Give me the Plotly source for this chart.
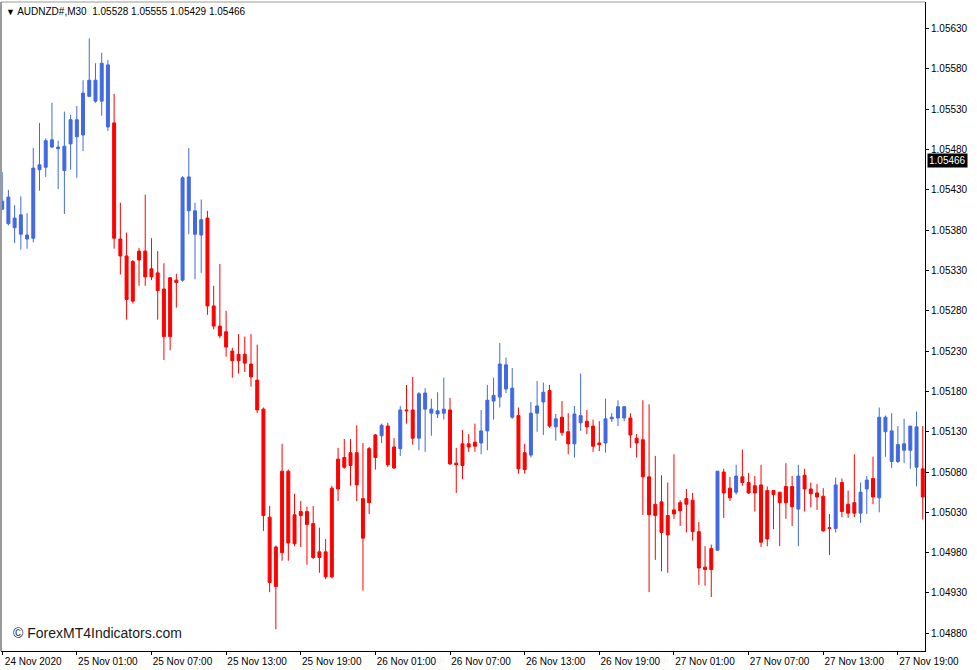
import pandas as pd
import plotly.graph_objects as go

# ---- data (AUDNZD#, M30) ----
times = pd.date_range("2020-11-24 19:00", periods=149, freq="30min")

opens = [
    1.05406, 1.05388, 1.05383, 1.05375, 1.05369, 1.05370, 1.05455, 1.05458, 1.05483, 1.05481,
    1.05454, 1.05487, 1.05496, 1.05498, 1.05546, 1.05540, 1.05540, 1.05508, 1.05513, 1.05369,
    1.05348, 1.05341, 1.05354, 1.05354, 1.05332, 1.05327, 1.05307, 1.05321, 1.05318, 1.05318,
    1.05404, 1.05375, 1.05374, 1.05395, 1.05286, 1.05261, 1.05254, 1.05230, 1.05226, 1.05226,
    1.05214, 1.05194, 1.05158, 1.05024, 1.04987, 1.05081, 1.05081, 1.05027, 1.05031, 1.05031,
    1.05016, 1.04981, 1.04981, 1.05060, 1.05096, 1.05098, 1.05104, 1.05104, 1.05047, 1.05109,
    1.05126, 1.05125, 1.05137, 1.05111, 1.05109, 1.05157, 1.05157, 1.05122, 1.05158, 1.05153,
    1.05152, 1.05153, 1.05157, 1.05091, 1.05115, 1.05115, 1.05117, 1.05116, 1.05131, 1.05168,
    1.05173, 1.05183, 1.05148, 1.05150, 1.05104, 1.05101, 1.05153, 1.05167, 1.05181, 1.05136,
    1.05148, 1.05130, 1.05115, 1.05141, 1.05143, 1.05137, 1.05116, 1.05116, 1.05146, 1.05147,
    1.05147, 1.05147, 1.05122, 1.05120, 1.05074, 1.05040, 1.05043, 1.05026, 1.05033, 1.05042,
    1.05047, 1.05045, 1.05006, 1.04962, 1.04985, 1.04983, 1.05080, 1.05060, 1.05055, 1.05074,
    1.05067, 1.05063, 1.05064, 1.05057, 1.05057, 1.05055, 1.05062, 1.05062, 1.05034, 1.05076,
    1.05059, 1.05054, 1.05050, 1.05011, 1.05010, 1.05067, 1.05040, 1.05042, 1.05029, 1.05059,
    1.05072, 1.05048, 1.05130, 1.05093, 1.05093, 1.05107, 1.05107, 1.05086, 1.05084,
]
highs = [
    1.05452, 1.05430, 1.05411, 1.05422, 1.05401, 1.05482, 1.05513, 1.05494, 1.05538, 1.05491,
    1.05527, 1.05523, 1.05534, 1.05566, 1.05618, 1.05587, 1.05600, 1.05591, 1.05549, 1.05414,
    1.05377, 1.05343, 1.05358, 1.05424, 1.05370, 1.05354, 1.05339, 1.05322, 1.05326, 1.05447,
    1.05482, 1.05414, 1.05418, 1.05404, 1.05311, 1.05338, 1.05280, 1.05234, 1.05251, 1.05248,
    1.05251, 1.05238, 1.05160, 1.05038, 1.04989, 1.05115, 1.05083, 1.05053, 1.05044, 1.05037,
    1.05038, 1.05011, 1.04997, 1.05063, 1.05110, 1.05121, 1.05121, 1.05138, 1.05116, 1.05111,
    1.05127, 1.05140, 1.05141, 1.05122, 1.05162, 1.05188, 1.05198, 1.05179, 1.05184, 1.05171,
    1.05179, 1.05197, 1.05172, 1.05110, 1.05132, 1.05127, 1.05140, 1.05157, 1.05188, 1.05197,
    1.05240, 1.05222, 1.05209, 1.05160, 1.05115, 1.05167, 1.05193, 1.05191, 1.05188, 1.05152,
    1.05168, 1.05153, 1.05162, 1.05202, 1.05157, 1.05145, 1.05143, 1.05171, 1.05153, 1.05169,
    1.05162, 1.05153, 1.05127, 1.05169, 1.05164, 1.05100, 1.05076, 1.05067, 1.05102, 1.05045,
    1.05059, 1.05054, 1.05018, 1.04988, 1.04990, 1.05081, 1.05084, 1.05074, 1.05089, 1.05108,
    1.05079, 1.05075, 1.05089, 1.05062, 1.05057, 1.05055, 1.05091, 1.05075, 1.05089, 1.05084,
    1.05067, 1.05065, 1.05060, 1.05028, 1.05073, 1.05072, 1.05057, 1.05102, 1.05067, 1.05075,
    1.05099, 1.05160, 1.05150, 1.05153, 1.05137, 1.05146, 1.05137, 1.05155, 1.05137,
]
lows = [
    1.05405, 1.05386, 1.05364, 1.05356, 1.05357, 1.05365, 1.05429, 1.05446, 1.05482, 1.05431,
    1.05400, 1.05455, 1.05445, 1.05478, 1.05545, 1.05538, 1.05522, 1.05503, 1.05357, 1.05325,
    1.05269, 1.05289, 1.05311, 1.05311, 1.05318, 1.05269, 1.05219, 1.05231, 1.05284, 1.05316,
    1.05375, 1.05319, 1.05327, 1.05275, 1.05257, 1.05246, 1.05223, 1.05197, 1.05202, 1.05204,
    1.05186, 1.05153, 1.05007, 1.04931, 1.04885, 1.04970, 1.04970, 1.04988, 1.04987, 1.04965,
    1.04972, 1.04955, 1.04947, 1.04948, 1.05044, 1.05084, 1.05063, 1.05044, 1.04933, 1.05028,
    1.05083, 1.05116, 1.05086, 1.05084, 1.05100, 1.05140, 1.05114, 1.05107, 1.05105, 1.05125,
    1.05147, 1.05145, 1.05089, 1.05054, 1.05071, 1.05105, 1.05105, 1.05102, 1.05107, 1.05145,
    1.05160, 1.05178, 1.05146, 1.05078, 1.05078, 1.05098, 1.05130, 1.05126, 1.05135, 1.05119,
    1.05125, 1.05102, 1.05098, 1.05131, 1.05127, 1.05105, 1.05106, 1.05104, 1.05142, 1.05137,
    1.05143, 1.05110, 1.05098, 1.05027, 1.04931, 1.04971, 1.04957, 1.04955, 1.05022, 1.05013,
    1.05005, 1.04995, 1.04940, 1.04939, 1.04925, 1.04983, 1.05023, 1.05044, 1.05052, 1.05063,
    1.05053, 1.05031, 1.04987, 1.04988, 1.05009, 1.04988, 1.05022, 1.05013, 1.04988, 1.05031,
    1.05036, 1.05033, 1.05006, 1.04977, 1.05005, 1.05024, 1.05023, 1.05024, 1.05017, 1.05028,
    1.05040, 1.05030, 1.05099, 1.05085, 1.05091, 1.05091, 1.05084, 1.05062, 1.05021,
]
closes = [
    1.05416, 1.05421, 1.05395, 1.05399, 1.05374, 1.05457, 1.05461, 1.05491, 1.05492, 1.05483,
    1.05484, 1.05517, 1.05517, 1.05550, 1.05566, 1.05566, 1.05587, 1.05585, 1.05370, 1.05348,
    1.05294, 1.05292, 1.05343, 1.05322, 1.05322, 1.05305, 1.05248, 1.05248, 1.05315, 1.05445,
    1.05446, 1.05404, 1.05393, 1.05286, 1.05261, 1.05249, 1.05235, 1.05218, 1.05218, 1.05215,
    1.05198, 1.05157, 1.05026, 1.04943, 1.04938, 1.04980, 1.04992, 1.04991, 1.05026, 1.05015,
    1.04974, 1.04974, 1.04950, 1.04950, 1.05059, 1.05086, 1.05088, 1.05064, 1.04998, 1.05042,
    1.05098, 1.05138, 1.05089, 1.05085, 1.05157, 1.05156, 1.05122, 1.05177, 1.05178, 1.05158,
    1.05156, 1.05158, 1.05090, 1.05089, 1.05088, 1.05111, 1.05112, 1.05131, 1.05169, 1.05175,
    1.05214, 1.05213, 1.05184, 1.05084, 1.05083, 1.05153, 1.05162, 1.05179, 1.05137, 1.05146,
    1.05129, 1.05115, 1.05152, 1.05150, 1.05136, 1.05112, 1.05114, 1.05146, 1.05148, 1.05161,
    1.05161, 1.05126, 1.05116, 1.05074, 1.05027, 1.05026, 1.05005, 1.05002, 1.05028, 1.05032,
    1.05040, 1.05006, 1.04961, 1.04959, 1.04959, 1.05081, 1.05054, 1.05048, 1.05075, 1.05067,
    1.05054, 1.05054, 1.04993, 1.04997, 1.05052, 1.05042, 1.05042, 1.05037, 1.05075, 1.05059,
    1.05053, 1.05049, 1.05007, 1.05010, 1.05064, 1.05031, 1.05029, 1.05029, 1.05055, 1.05070,
    1.05049, 1.05148, 1.05148, 1.05131, 1.05114, 1.05115, 1.05137, 1.05136, 1.05049,
]

x_tick_times = [
    "2020-11-24 19:00", "2020-11-25 01:00", "2020-11-25 07:00", "2020-11-25 13:00",
    "2020-11-25 19:00", "2020-11-26 01:00", "2020-11-26 07:00", "2020-11-26 13:00",
    "2020-11-26 19:00", "2020-11-27 01:00", "2020-11-27 07:00", "2020-11-27 13:00",
    "2020-11-27 19:00",
]
x_tick_labels = [
    "24 Nov 2020", "25 Nov 01:00", "25 Nov 07:00", "25 Nov 13:00", "25 Nov 19:00",
    "26 Nov 01:00", "26 Nov 07:00", "26 Nov 13:00", "26 Nov 19:00", "27 Nov 01:00",
    "27 Nov 07:00", "27 Nov 13:00", "27 Nov 19:00",
]
y_tick_values = [1.04880, 1.04930, 1.04980, 1.05030, 1.05080, 1.05130, 1.05180,
                 1.05230, 1.05280, 1.05330, 1.05380, 1.05430, 1.05480, 1.05530,
                 1.05580, 1.05630]
y_tick_labels = [f"{v:.5f}" for v in y_tick_values]

symbol = "AUDNZD#,M30"
header_ohlc = ["1.05528", "1.05555", "1.05429", "1.05466"]
last_price = 1.05466
copyright_text = "© ForexMT4Indicators.com"

BLUE = "#4169E1"
RED = "#FF0000"
FONT = "Liberation Sans, Arial, sans-serif"

fig = go.Figure(
    go.Candlestick(
        x=times, open=opens, high=highs, low=lows, close=closes,
        increasing=dict(line=dict(color=BLUE, width=1), fillcolor=BLUE),
        decreasing=dict(line=dict(color=RED, width=1), fillcolor=RED),
        whiskerwidth=0,
        showlegend=False,
    )
)

fig.update_layout(
    width=977, height=670,
    margin=dict(l=1, r=52, t=2, b=19, autoexpand=False),
    paper_bgcolor="white", plot_bgcolor="white",
    font=dict(family=FONT, size=10, color="black"),
    boxgap=0.32,
    showlegend=False,
    xaxis=dict(
        type="date",
        range=["2020-11-24 18:54:18", "2020-11-27 21:10:48"],
        rangeslider=dict(visible=False),
        showgrid=False, zeroline=False,
        tickmode="array", tickvals=x_tick_times, ticktext=x_tick_labels,
        ticks="outside", ticklen=3, tickcolor="black",
        ticklabelshift=31, ticklabelstandoff=-2,
        showline=True, linecolor="black", linewidth=1,
        tickfont=dict(family=FONT, size=10, color="black"),
    ),
    yaxis=dict(
        side="right",
        range=[1.04858, 1.05663],
        showgrid=False, zeroline=False,
        tickmode="array", tickvals=y_tick_values, ticktext=y_tick_labels,
        ticks="outside", ticklen=3, tickcolor="black",
        showline=True, linecolor="black", linewidth=1,
        tickfont=dict(family=FONT, size=10, color="black"),
    ),
)

# window frame (grey left / top edges)
fig.add_shape(type="line", xref="paper", yref="paper", x0=0, x1=0, y0=0, y1=1,
              line=dict(color="#9a9a9a", width=2))
fig.add_shape(type="line", xref="paper", yref="paper", x0=0, x1=1, y0=1, y1=1,
              line=dict(color="#9a9a9a", width=1))

# header line
fig.add_annotation(
    xref="paper", yref="paper", x=0, y=1, xanchor="left", yanchor="top",
    xshift=3, yshift=-2, showarrow=False,
    text=f"<span style='font-size:9px'>▼</span> {symbol}  " + " ".join(header_ohlc),
    font=dict(family=FONT, size=10, color="black"),
)

# current price tag on the right scale
fig.add_annotation(
    xref="paper", yref="y", x=1, y=last_price, xanchor="left", yanchor="middle",
    xshift=2, showarrow=False, text=f"{last_price:.5f}",
    font=dict(family=FONT, size=10, color="white"),
    bgcolor="black", borderpad=1,
)

# watermark
fig.add_annotation(
    xref="paper", yref="paper", x=0, y=0.028, xanchor="left", yanchor="middle",
    xshift=10, showarrow=False, text=copyright_text,
    font=dict(family=FONT, size=14, color="#1a1a1a"),
)

fig.write_html(
    "out.html",
    config={"displayModeBar": False},
    post_script="document.body.style.margin='0';document.body.style.padding='0';",
)
